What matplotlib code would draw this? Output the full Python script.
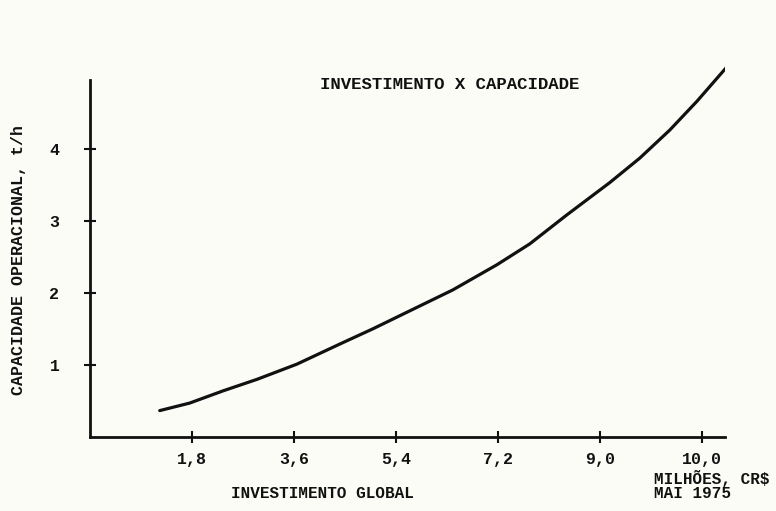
import matplotlib.pyplot as plt
import numpy as np

# investimento global (milhões CR$) x capacidade operacional (t/h)
investimento = [1.23, 1.76, 2.35, 2.95, 3.65, 4.41, 4.99, 5.59, 6.40, 7.18,
                7.76, 8.41, 9.17, 9.70, 10.23, 10.71, 11.23]
capacidade = [0.365, 0.47, 0.64, 0.80, 1.01, 1.29, 1.50, 1.73, 2.04, 2.39,
              2.68, 3.08, 3.53, 3.87, 4.26, 4.66, 5.13]

x_ticks = [1.8, 3.6, 5.4, 7.2, 9.0, 10.8]
x_labels = ['1,8', '3,6', '5,4', '7,2', '9,0', '10,0']
y_ticks = [1, 2, 3, 4]
y_labels = ['1', '2', '3', '4']

plt.rcParams['font.family'] = ['Liberation Mono', 'DejaVu Sans Mono']
plt.rcParams['font.weight'] = 'bold'

bg = '#fcfcf7'
ink = '#111111'
fig = plt.figure(figsize=(7.76, 5.11), dpi=100, facecolor=bg)
ax = fig.add_axes([0.116, 0.145, 0.818, 0.726], facecolor=bg)

ax.plot(investimento, capacidade, '-', color=ink, lw=2.3,
        solid_capstyle='round', solid_joinstyle='round')

ax.set_xlim(0, 11.2)
ax.set_ylim(0, 5.15)
for s in ['top', 'right']:
    ax.spines[s].set_visible(False)
ax.spines['left'].set_bounds(0, 4.95)
ax.spines['bottom'].set_bounds(0, 11.2)
for s in ['left', 'bottom']:
    ax.spines[s].set_linewidth(2.0)
    ax.spines[s].set_color(ink)

ax.set_xticks(x_ticks)
ax.set_xticklabels(x_labels)
ax.set_yticks(y_ticks)
ax.set_yticklabels(y_labels)
ax.tick_params(axis='both', direction='inout', length=8, width=1.5, color=ink,
               labelsize=12, labelcolor=ink)
ax.tick_params(axis='x', pad=7)
ax.tick_params(axis='y', pad=18)

fig.text(0.58, 0.834, 'INVESTIMENTO X CAPACIDADE', ha='center', va='center',
         fontsize=12.5, color=ink)
fig.text(0.416, 0.035, 'INVESTIMENTO GLOBAL', ha='center', va='center',
         fontsize=11.5, color=ink)
fig.text(0.843, 0.05, 'MILHÕES, CR$\nMAI 1975', ha='left', va='center',
         fontsize=11.5, color=ink, linespacing=0.9)
fig.text(0.024, 0.491, 'CAPACIDADE OPERACIONAL, t/h', ha='center', va='center',
         rotation=90, fontsize=12, color=ink)

fig.savefig('out.png', dpi=100, facecolor=bg)
